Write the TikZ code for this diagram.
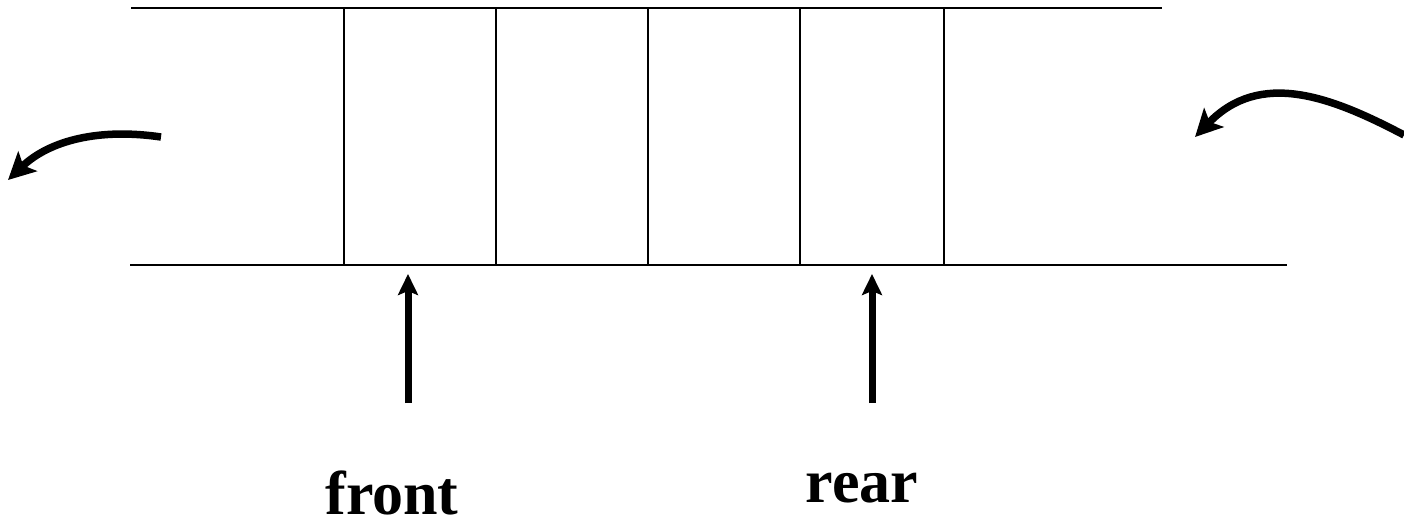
\documentclass[tikz,border=0pt]{standalone}
\usepackage{fontspec}
\setmainfont{Liberation Serif}
\usetikzlibrary{arrows.meta}

\begin{document}
\begin{tikzpicture}[x=1pt,y=-1pt,
  queue line/.style={line width=1.8pt},
  pointer/.style={-{Stealth[length=21pt,width=20pt,inset=4pt]},line width=7pt},
  flow/.style={-{Stealth[length=27pt,width=27pt,inset=6pt]},line width=7.5pt},
  label node/.style={anchor=base,inner sep=0pt,font=\fontsize{62}{70}\selectfont\bfseries}]
  \useasboundingbox (0,0) rectangle (1404,523);
  % the queue: two long rails and the cell walls
  \coordinate (topl) at (131,8);
  \coordinate (topr) at (1162,8);
  \coordinate (botl) at (130,265);
  \coordinate (botr) at (1287,265);
  \draw[queue line] (topl) -- (topr);
  \draw[queue line] (botl) -- (botr);
  \foreach \x in {344,496,648,800,944}
    \draw[queue line] (\x,8) -- (\x,265);
  % items leave on the left, come in on the right
  \coordinate (outstart) at (161,137);
  \coordinate (outend) at (8,180);
  \coordinate (instart) at (1404,135);
  \coordinate (inend) at (1195,137);
  \draw[flow] (outstart) .. controls (100,128) and (50,140) .. (outend);
  \draw[flow] (instart) .. controls (1330,96) and (1260,70) .. (inend);
  % the two pointers
  \node[label node] (front) at (392,514) {front};
  \node[label node] (rear) at (862,502) {rear};
  \coordinate (fronttail) at (408,403);
  \coordinate (fronthead) at (408,274);
  \coordinate (reartail) at (872,403);
  \coordinate (rearhead) at (872,274);
  \draw[pointer] (fronttail) -- (fronthead);
  \draw[pointer] (reartail) -- (rearhead);
\end{tikzpicture}
\end{document}
